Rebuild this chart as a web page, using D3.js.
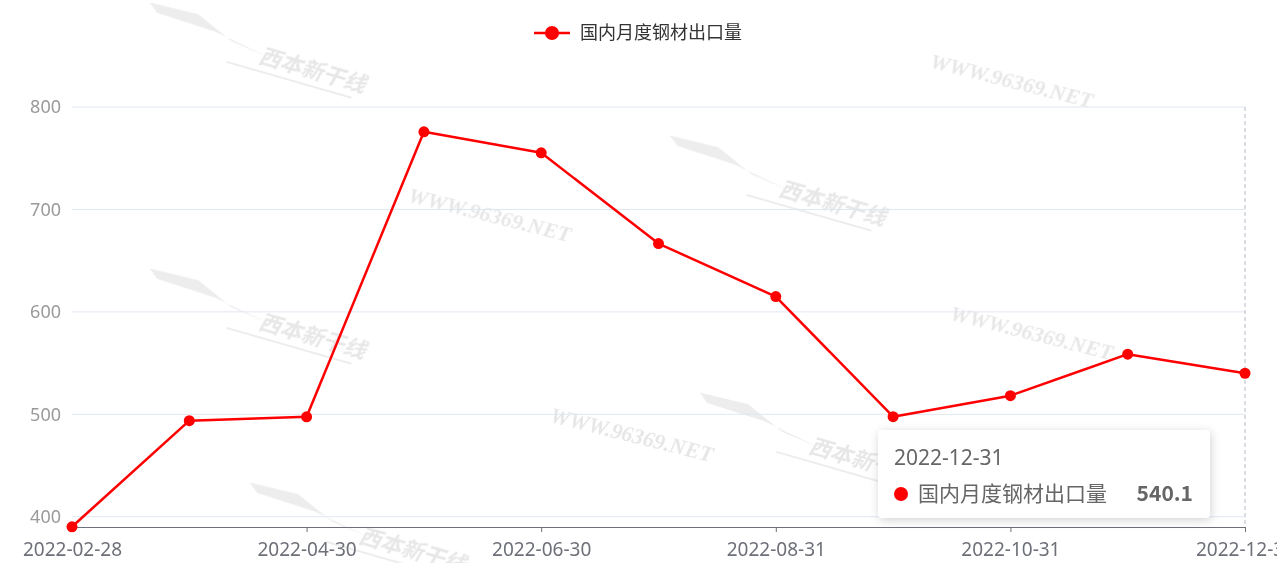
<!DOCTYPE html>
<html><head><meta charset="utf-8">
<script src="https://cdn.jsdelivr.net/npm/d3@7/dist/d3.min.js"></script>
<style>
html,body{margin:0;padding:0;background:#fff;}
svg{display:block;font-family:"Microsoft YaHei","Noto Sans CJK SC","Noto Sans",sans-serif;}
</style></head>
<body>
<svg id="chart" width="1277" height="563"></svg>
<script>
const seriesName = "国内月度钢材出口量";
const categories = ["2022-02-28","2022-03-31","2022-04-30","2022-05-31","2022-06-30","2022-07-31","2022-08-31","2022-09-30","2022-10-31","2022-11-30","2022-12-31"];
const values = [390.2, 493.8, 497.6, 775.8, 755.3, 666.7, 614.9, 497.7, 518.2, 558.7, 540.1];
const yTicks = [400, 500, 600, 700, 800];
const wmText = [[1010,88],[488,222],[1030,340],[630,442]];
const wmLogo = [[250,52],[770,185],[250,318],[800,442],[350,532]];

const svg = d3.select("#chart");
const m = {l:72, r:1245, t:107, b:527};
const x = d3.scalePoint().domain(categories).range([m.l, m.r]);
const y = d3.scaleLinear().domain([390, 800]).range([m.b, m.t]);

// watermarks
const wm = svg.append("g").attr("opacity", 0.35);
wmText.forEach(([cx,cy]) => {
  wm.append("text").attr("transform",`translate(${cx},${cy}) rotate(14)`)
    .attr("text-anchor","middle").attr("font-family","Liberation Serif, serif")
    .attr("font-style","italic").attr("font-weight","bold").attr("font-size",22)
    .attr("fill","#bbb").text("WWW.96369.NET");
});
wmLogo.forEach(([cx,cy]) => {
  const g = wm.append("g").attr("transform",`translate(${cx},${cy}) rotate(16)`);
  g.append("path").attr("d","M-110,-20 L-60,-22 L-20,-5 L20,0 L-40,-10 L-100,-12 Z").attr("fill","#ccc");
  g.append("text").attr("x",10).attr("y",8).attr("font-size",22).attr("font-style","italic")
    .attr("font-weight","bold").attr("fill","#bbb").text("西本新干线");
  g.append("line").attr("x1",-20).attr("x2",110).attr("y1",16).attr("y2",16).attr("stroke","#ccc").attr("stroke-width",2);
});

// grid
svg.append("g").selectAll("line").data(yTicks).join("line")
  .attr("x1", m.l).attr("x2", m.r).attr("y1", d=>y(d)).attr("y2", d=>y(d))
  .attr("stroke","#E0E6F1").attr("stroke-width",1);

// y labels
svg.append("g").selectAll("text").data(yTicks).join("text")
  .attr("x", 61).attr("y", d=>y(d)).attr("dy","0.35em").attr("text-anchor","end")
  .attr("font-size",18).attr("fill","#9a9a9a").attr("font-family","\"Noto Sans\",sans-serif").text(d=>d);

// axis pointer
svg.append("line").attr("x1", x(categories[10])).attr("x2", x(categories[10]))
  .attr("y1", m.t).attr("y2", m.b).attr("stroke","#B6BAC7").attr("stroke-dasharray","4,3").attr("stroke-width",1);

// x axis
const xAxis = d3.axisBottom(x).tickSizeInner(5).tickSizeOuter(0)
  .tickValues(categories.filter((d,i)=>i%2===0));
const gx = svg.append("g").attr("transform",`translate(0,${m.b})`).call(xAxis);
gx.select(".domain").attr("stroke","#6E7079");
gx.selectAll(".tick line").attr("stroke","#6E7079");
gx.selectAll(".tick text").attr("font-size",19).attr("fill","#6E7079").attr("dy","1.1em")
  .attr("font-family","\"Noto Sans\",sans-serif");

// line
const line = d3.line().x((d,i)=>x(categories[i])).y(d=>y(d));
svg.append("path").datum(values).attr("d", line).attr("fill","none")
  .attr("stroke","#ff0000").attr("stroke-width",2.5).attr("stroke-linejoin","round");
svg.append("g").selectAll("circle").data(values).join("circle")
  .attr("cx",(d,i)=>x(categories[i])).attr("cy",d=>y(d)).attr("r",5.5).attr("fill","#ff0000");

// legend
const lg = svg.append("g");
lg.append("line").attr("x1",534).attr("x2",570).attr("y1",33).attr("y2",33).attr("stroke","#ff0000").attr("stroke-width",2.5);
lg.append("circle").attr("cx",552).attr("cy",33).attr("r",7).attr("fill","#ff0000");
lg.append("text").attr("x",580).attr("y",33).attr("dy","0.35em").attr("font-size",18).attr("fill","#333").text(seriesName);

// tooltip
const defs = svg.append("defs");
const f = defs.append("filter").attr("id","sh").attr("x","-20%").attr("y","-30%").attr("width","140%").attr("height","160%");
f.append("feDropShadow").attr("dx",1).attr("dy",2).attr("stdDeviation",5).attr("flood-color","#000").attr("flood-opacity",0.18);
const tt = svg.append("g").attr("transform","translate(878,430)");
tt.append("rect").attr("width",332).attr("height",88).attr("rx",4).attr("fill","#fff").attr("filter","url(#sh)");
tt.append("text").attr("x",16).attr("y",35).attr("font-size",21).attr("fill","#666")
  .attr("font-family","\"Noto Sans\",sans-serif").text(categories[10]);
tt.append("circle").attr("cx",23).attr("cy",64).attr("r",7).attr("fill","#ff0000");
tt.append("text").attr("x",40).attr("y",64).attr("dy","0.35em").attr("font-size",21).attr("fill","#666").text(seriesName);
tt.append("text").attr("x",315).attr("y",64).attr("dy","0.35em").attr("text-anchor","end")
  .attr("font-size",21).attr("font-weight","bold").attr("fill","#666").text(values[10]);
</script>
</body></html>
